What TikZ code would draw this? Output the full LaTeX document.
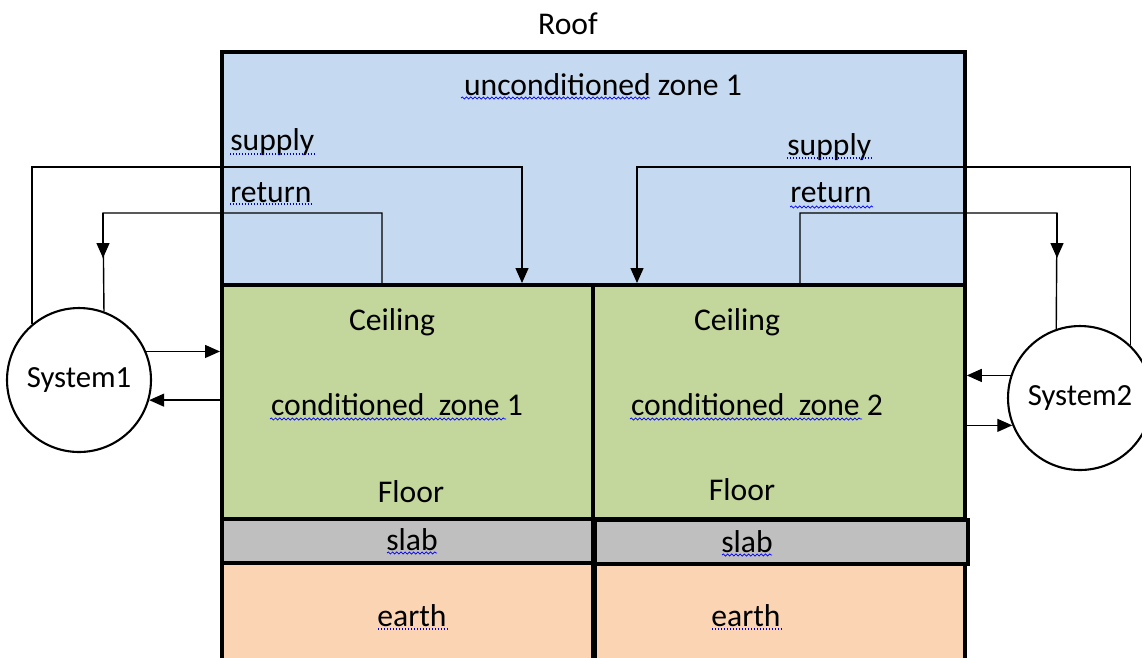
\documentclass[tikz,border=0pt]{standalone}
\usepackage{fontspec}
\setmainfont{Carlito}
\usetikzlibrary{arrows.meta,decorations.pathmorphing,calc}
\definecolor{ublue}{RGB}{197,217,240}
\definecolor{cgreen}{RGB}{195,214,155}
\definecolor{sgray}{RGB}{191,191,191}
\definecolor{epeach}{RGB}{251,212,180}
\begin{document}
\begin{tikzpicture}[x=0.02cm,y=-0.02cm,
  zone/.style={draw, line width=2.2pt, inner sep=0pt, anchor=north west},
  lbl/.style={font=\fontsize{18}{21}\selectfont, inner sep=0pt},
  pipe/.style={line width=0.8pt},
  flow/.style={line width=0.8pt, -{Triangle[length=0.3cm,width=0.26cm]}},
  sys/.style={circle, draw, line width=1.2pt, minimum size=2.88cm, inner sep=0pt, fill=white, font=\fontsize{17.5}{20}\selectfont},
  wavy/.style={blue, line width=0.4pt, decorate, decoration={snake, amplitude=0.6pt, segment length=2.4pt}},
  dots/.style={blue!80!black, line width=0.7pt, dash pattern=on 0.5pt off 1.2pt}]
\useasboundingbox (0,0) rectangle (1142,657);
% earth and slab
\node[zone, fill=epeach, minimum width=7.42cm, minimum height=2.3cm] (e1) at (220,561) {};
\node[zone, fill=epeach, minimum width=7.40cm, minimum height=2.3cm] (e2) at (593,562) {};
\node[zone, fill=sgray, minimum width=7.42cm, minimum height=0.88cm] (sl1) at (220,517) {};
\node[zone, fill=sgray, minimum width=7.46cm, minimum height=0.88cm] (sl2) at (593,518) {};
% conditioned zones
\node[zone, fill=cgreen, minimum width=7.42cm, minimum height=4.68cm] (cz1) at (220,283) {};
\node[zone, fill=cgreen, minimum width=7.44cm, minimum height=4.68cm] (cz2) at (591,283) {};
% unconditioned zone
\node[zone, fill=ublue, minimum width=14.86cm, minimum height=4.66cm] (uz) at (220,50) {};
% texts
\node[lbl] (roof) at (568,24) {Roof};
\node[lbl] (uzt) at (603,85) {unconditioned zone 1};
\node[lbl, anchor=west] (sup1t) at (230,142) {supply};
\node[lbl, anchor=west] (ret1t) at (230,193) {return};
\node[lbl, anchor=west] (sup2t) at (787,147) {supply};
\node[lbl, anchor=west] (ret2t) at (790,193) {return};
\node[lbl] (ceil1) at (392,322) {Ceiling};
\node[lbl] (ceil2) at (737,322) {Ceiling};
\node[lbl] (cz1t) at (397,405) {conditioned\ \ zone 1};
\node[lbl] (cz2t) at (757,405) {conditioned\ \ zone 2};
\node[lbl] (fl1) at (411,492) {Floor};
\node[lbl] (fl2) at (742,490) {Floor};
\node[lbl] (slt1) at (412,540) {slab};
\node[lbl] (slt2) at (747,542) {slab};
\node[lbl] (et1) at (412,616) {earth};
\node[lbl] (et2) at (746,616) {earth};
% spelling marks
\draw[wavy] (461,98) -- (650,98);
\draw[dots] (230,154) -- (316,154);
\draw[dots] (230,204) -- (311,204);
\draw[dots] (787,158) -- (873,158);
\draw[wavy] (790,207) -- (873,207);
\draw[wavy] (270,419) -- (506,419);
\draw[wavy] (630,419) -- (862,419);
\draw[wavy] (387,553) -- (437,553);
\draw[wavy] (722,555) -- (772,555);
\draw[dots] (378,629) -- (447,629);
\draw[dots] (712,629) -- (781,629);
% systems
\node[sys] (s1) at (79,380) {System1};
\node[sys] (s2) at (1080,398) {System2};
% connection points
\coordinate (sup1) at (522,283);
\coordinate (ret1) at (382,283);
\coordinate (sup2) at (637,283);
\coordinate (ret2) at (800,283);
\coordinate (c1) at (103,213);
\coordinate (c2) at (1057,213);
% ducts
\draw[flow] (s1.130) |- (522,167) -- (sup1);
\draw[pipe] (ret1) |- (c1) -- (s1.70);
\draw[flow] (c1) -- (103,258);
\draw[flow] (s2.46) |- (637,167) -- (sup2);
\draw[pipe] (ret2) |- (c2) -- (s2.109.5);
\draw[flow] (c2) -- (1057,258);
\draw[flow] (s1.23) -- (s1.23 -| cz1.west);
\draw[flow] (s1.-16 -| cz1.west) -- (s1.-16);
\draw[flow] (s2.162) -- (s2.162 -| cz2.east);
\draw[flow] (s2.202 -| cz2.east) -- (s2.202);
\end{tikzpicture}
\end{document}
